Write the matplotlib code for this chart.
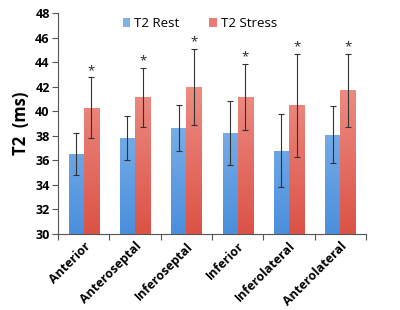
import numpy as np
import matplotlib
matplotlib.use("Agg")
import matplotlib.pyplot as plt
from matplotlib.colors import LinearSegmentedColormap
from matplotlib.patches import Patch

plt.rcParams['font.family'] = ['Open Sans', 'DejaVu Sans']

segments = ['Anterior', 'Anteroseptal', 'Inferoseptal', 'Inferior',
            'Inferolateral', 'Anterolateral']
rest_mean = [36.5, 37.85, 38.65, 38.2, 36.8, 38.1]
rest_sd = [1.7, 1.8, 1.85, 2.6, 2.95, 2.3]
stress_mean = [40.3, 41.15, 41.95, 41.15, 40.5, 41.7]
stress_sd = [2.45, 2.4, 3.1, 2.7, 4.2, 2.95]

blue_cmap = LinearSegmentedColormap.from_list('b', ['#4a8fdc', '#aacdf2'])
red_cmap = LinearSegmentedColormap.from_list('r', ['#dc5246', '#f5aaa3'])

fig = plt.figure(figsize=(4.0, 3.1), dpi=100)
ax = fig.add_axes([0.145, 0.245, 0.77, 0.713])

x = np.arange(len(segments))
w = 0.295
ymin, ymax = 30, 48


def gradient_bars(xs, heights, cmap):
    bars = ax.bar(xs, np.array(heights) - ymin, w, bottom=ymin,
                  color='none', edgecolor='none')
    grad = np.linspace(0, 1, 256).reshape(-1, 1)
    for b in bars:
        x0 = b.get_x()
        im = ax.imshow(grad, cmap=cmap, origin='lower', aspect='auto',
                       extent=[x0, x0 + w, ymin, ymax], zorder=1)
        im.set_clip_path(b)
    return bars


gradient_bars(x - w / 2, rest_mean, blue_cmap)
gradient_bars(x + w / 2, stress_mean, red_cmap)

ekw = dict(fmt='none', ecolor='#333333', elinewidth=0.8, capsize=2.5,
           capthick=0.8, zorder=3)
ax.errorbar(x - w / 2, rest_mean, yerr=rest_sd, **ekw)
ax.errorbar(x + w / 2, stress_mean, yerr=stress_sd, **ekw)

# significance stars above stress bars
for xi, m, s in zip(x, stress_mean, stress_sd):
    ax.text(xi + w / 2, m + s + 0.05, '*', ha='center', va='bottom',
            fontsize=9.5, color='#222222')

ax.set_xlim(-0.5, len(segments) - 0.5)
ax.set_ylim(ymin, ymax)
ax.set_yticks(np.arange(30, 49, 2))
ax.set_yticklabels([str(v) for v in range(30, 49, 2)], fontweight='bold',
                   fontsize=9)
ax.set_xticks(np.arange(-0.5, len(segments), 1.0))
ax.set_xticklabels([])
ax.set_xticks(x, minor=True)
ax.set_xticklabels(segments, minor=True, rotation=45, ha='right',
                   rotation_mode='anchor', fontweight='bold', fontsize=9)
ax.tick_params(axis='x', which='minor', length=0, pad=4)
ax.tick_params(axis='x', which='major', length=4, direction='out',
               color='#555555')
ax.tick_params(axis='y', length=4, direction='out', color='#555555', pad=2)

for side in ['top', 'right']:
    ax.spines[side].set_visible(False)
for side in ['left', 'bottom']:
    ax.spines[side].set_color('#555555')
    ax.spines[side].set_linewidth(0.8)

ax.set_ylabel('T2  (ms)', fontweight='bold', fontsize=12, labelpad=4)

handles = [Patch(facecolor='#7db3ea', label='T2 Rest'),
           Patch(facecolor='#ec7c73', label='T2 Stress')]
ax.legend(handles=handles, loc='upper center', ncol=2, frameon=False,
          fontsize=9.5, bbox_to_anchor=(0.46, 1.035), handlelength=0.6,
          handleheight=0.6, handletextpad=0.3, columnspacing=2.2)

fig.savefig('out.png', dpi=100)
